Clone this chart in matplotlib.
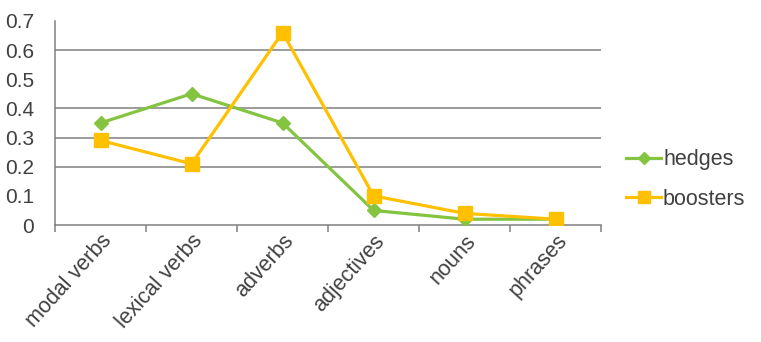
import matplotlib.pyplot as plt
import numpy as np

categories = ['modal verbs', 'lexical verbs', 'adverbs', 'adjectives', 'nouns', 'phrases']
hedges = [0.35, 0.45, 0.35, 0.05, 0.02, 0.02]
boosters = [0.29, 0.21, 0.66, 0.10, 0.04, 0.02]
yticks = [0, 0.1, 0.2, 0.3, 0.4, 0.5, 0.6, 0.7]
gridvals = [0.2, 0.3, 0.4, 0.6]

plt.rcParams['font.family'] = ['Liberation Sans', 'DejaVu Sans']
text_col = '#404040'
axis_col = '#808080'

fig = plt.figure(figsize=(7.61, 3.42), dpi=100)
ax = fig.add_axes([0.0723, 0.342, 0.7177, 0.597])

x = np.arange(len(categories))
ax.plot(x, hedges, color='#84C441', lw=2.3, marker='D', ms=7.5, label='hedges', zorder=3)
ax.plot(x, boosters, color='#FFC000', lw=2.3, marker='s', ms=10, label='boosters', zorder=4)

for g in gridvals:
    ax.axhline(g, color=axis_col, lw=1.1, zorder=1)

ax.set_xlim(-0.5, len(categories) - 0.5)
ax.set_ylim(0, 0.7)
ax.set_yticks(yticks)
ax.set_yticklabels(['0' if v == 0 else f'{v:.1f}' for v in yticks])
ax.tick_params(axis='y', length=0, labelsize=15, colors=text_col, pad=15)

ax.set_xticks(np.arange(-0.5, len(categories), 1.0))
ax.set_xticklabels([])
ax.set_xticks(x, minor=True)
ax.set_xticklabels(categories, minor=True, rotation=48, ha='right',
                   rotation_mode='anchor', fontsize=15.5, color=text_col)
ax.tick_params(axis='x', which='major', length=5, color=axis_col, width=1.1)
ax.tick_params(axis='x', which='minor', length=0, pad=4)

for s in ['top', 'right']:
    ax.spines[s].set_visible(False)
for s in ['left', 'bottom']:
    ax.spines[s].set_color(axis_col)
    ax.spines[s].set_linewidth(1.1)

fig.legend(loc='center left', bbox_to_anchor=(0.809, 0.475), frameon=False,
           fontsize=15.5, labelcolor=text_col, handlelength=1.6, borderpad=0,
           handletextpad=0.1, labelspacing=0.85, markerscale=0.8)

fig.savefig('out.png', dpi=100)
